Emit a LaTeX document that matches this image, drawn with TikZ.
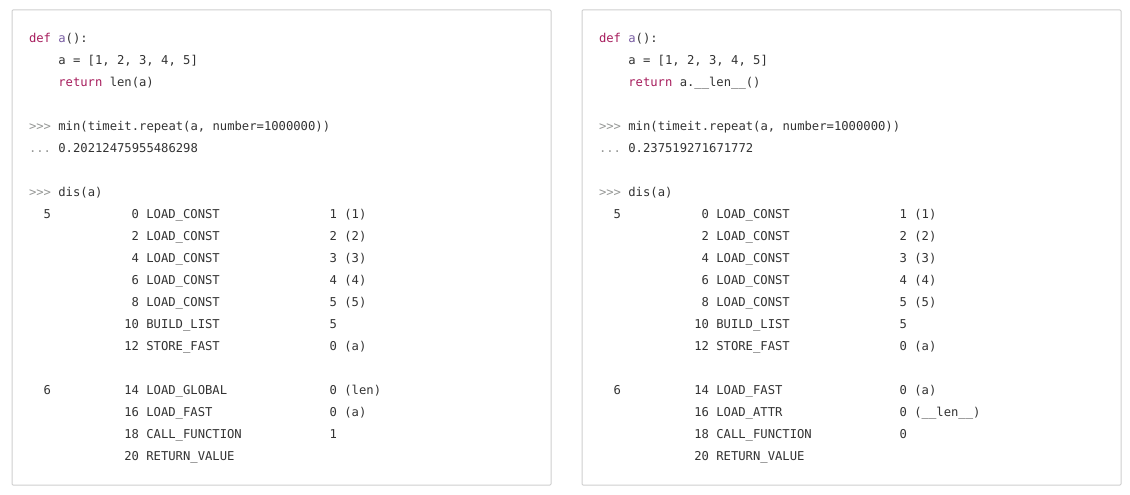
\documentclass[tikz,border=0pt]{standalone}
\usepackage{fontspec}
\newfontfamily\codefont[WordSpace={1,0,0}]{DejaVu Sans Mono}
\definecolor{kw}{HTML}{A71D5D}
\definecolor{fn}{HTML}{795DA3}
\definecolor{prompt}{HTML}{969896}
\definecolor{txt}{HTML}{333333}
\definecolor{frame}{HTML}{CFCFCF}
\newcommand\cw{7.334}
% #1 name, #2 panel x origin, #3 column, #4 row, #5 text
\newcommand\codeat[5]{\node[codetext] (#1) at ({#2+#3*\cw},{42.5+22*#4}) {#5};}
\tikzset{
  codetext/.style={anchor=base west, inner sep=0pt, outer sep=0pt, text=txt,
    font=\codefont\fontsize{12.2}{14}\selectfont\frenchspacing},
  panel/.style={draw=frame, line width=1pt, fill=white, rounded corners=1pt,
    minimum width=539pt, minimum height=475pt, inner sep=0pt, anchor=north west}
}
\begin{document}
\begin{tikzpicture}[x=1pt,y=-1pt]
\useasboundingbox[fill=white] (0,0) rectangle (1130,495);
\node[panel] (lpanel) at (11.5,9.5) {};
\node[panel] (rpanel) at (581.5,9.5) {};
% ---------- left panel ----------
\codeat{l0}{29}{0}{0}{{\color{kw}def} {\color{fn}a}():}
\codeat{l1}{29}{4}{1}{a = [1, 2, 3, 4, 5]}
\codeat{l2}{29}{4}{2}{{\color{kw}return} len(a)}
\codeat{l4}{29}{0}{4}{{\color{prompt}>{}>{}>} min(timeit.repeat(a, number=1000000))}
\codeat{l5}{29}{0}{5}{{\color{prompt}...} 0.20212475955486298}
\codeat{l7}{29}{0}{7}{{\color{prompt}>{}>{}>} dis(a)}
\codeat{lln5}{29}{2}{8}{5}
\codeat{lo8}{29}{14}{8}{0}
\codeat{lop8}{29}{16}{8}{LOAD\_CONST}
\codeat{la8}{29}{41}{8}{1 (1)}
\codeat{lo9}{29}{14}{9}{2}
\codeat{lop9}{29}{16}{9}{LOAD\_CONST}
\codeat{la9}{29}{41}{9}{2 (2)}
\codeat{lo10}{29}{14}{10}{4}
\codeat{lop10}{29}{16}{10}{LOAD\_CONST}
\codeat{la10}{29}{41}{10}{3 (3)}
\codeat{lo11}{29}{14}{11}{6}
\codeat{lop11}{29}{16}{11}{LOAD\_CONST}
\codeat{la11}{29}{41}{11}{4 (4)}
\codeat{lo12}{29}{14}{12}{8}
\codeat{lop12}{29}{16}{12}{LOAD\_CONST}
\codeat{la12}{29}{41}{12}{5 (5)}
\codeat{lo13}{29}{13}{13}{10}
\codeat{lop13}{29}{16}{13}{BUILD\_LIST}
\codeat{la13}{29}{41}{13}{5}
\codeat{lo14}{29}{13}{14}{12}
\codeat{lop14}{29}{16}{14}{STORE\_FAST}
\codeat{la14}{29}{41}{14}{0 (a)}
\codeat{lln6}{29}{2}{16}{6}
\codeat{lo16}{29}{13}{16}{14}
\codeat{lop16}{29}{16}{16}{LOAD\_GLOBAL}
\codeat{la16}{29}{41}{16}{0 (len)}
\codeat{lo17}{29}{13}{17}{16}
\codeat{lop17}{29}{16}{17}{LOAD\_FAST}
\codeat{la17}{29}{41}{17}{0 (a)}
\codeat{lo18}{29}{13}{18}{18}
\codeat{lop18}{29}{16}{18}{CALL\_FUNCTION}
\codeat{la18}{29}{41}{18}{1}
\codeat{lo19}{29}{13}{19}{20}
\codeat{lop19}{29}{16}{19}{RETURN\_VALUE}
% ---------- right panel ----------
\codeat{r0}{599}{0}{0}{{\color{kw}def} {\color{fn}a}():}
\codeat{r1}{599}{4}{1}{a = [1, 2, 3, 4, 5]}
\codeat{r2}{599}{4}{2}{{\color{kw}return} a.\_\_len\_\_()}
\codeat{r4}{599}{0}{4}{{\color{prompt}>{}>{}>} min(timeit.repeat(a, number=1000000))}
\codeat{r5}{599}{0}{5}{{\color{prompt}...} 0.237519271671772}
\codeat{r7}{599}{0}{7}{{\color{prompt}>{}>{}>} dis(a)}
\codeat{rln5}{599}{2}{8}{5}
\codeat{ro8}{599}{14}{8}{0}
\codeat{rop8}{599}{16}{8}{LOAD\_CONST}
\codeat{ra8}{599}{41}{8}{1 (1)}
\codeat{ro9}{599}{14}{9}{2}
\codeat{rop9}{599}{16}{9}{LOAD\_CONST}
\codeat{ra9}{599}{41}{9}{2 (2)}
\codeat{ro10}{599}{14}{10}{4}
\codeat{rop10}{599}{16}{10}{LOAD\_CONST}
\codeat{ra10}{599}{41}{10}{3 (3)}
\codeat{ro11}{599}{14}{11}{6}
\codeat{rop11}{599}{16}{11}{LOAD\_CONST}
\codeat{ra11}{599}{41}{11}{4 (4)}
\codeat{ro12}{599}{14}{12}{8}
\codeat{rop12}{599}{16}{12}{LOAD\_CONST}
\codeat{ra12}{599}{41}{12}{5 (5)}
\codeat{ro13}{599}{13}{13}{10}
\codeat{rop13}{599}{16}{13}{BUILD\_LIST}
\codeat{ra13}{599}{41}{13}{5}
\codeat{ro14}{599}{13}{14}{12}
\codeat{rop14}{599}{16}{14}{STORE\_FAST}
\codeat{ra14}{599}{41}{14}{0 (a)}
\codeat{rln6}{599}{2}{16}{6}
\codeat{ro16}{599}{13}{16}{14}
\codeat{rop16}{599}{16}{16}{LOAD\_FAST}
\codeat{ra16}{599}{41}{16}{0 (a)}
\codeat{ro17}{599}{13}{17}{16}
\codeat{rop17}{599}{16}{17}{LOAD\_ATTR}
\codeat{ra17}{599}{41}{17}{0 (\_\_len\_\_)}
\codeat{ro18}{599}{13}{18}{18}
\codeat{rop18}{599}{16}{18}{CALL\_FUNCTION}
\codeat{ra18}{599}{41}{18}{0}
\codeat{ro19}{599}{13}{19}{20}
\codeat{rop19}{599}{16}{19}{RETURN\_VALUE}
\end{tikzpicture}
\end{document}
